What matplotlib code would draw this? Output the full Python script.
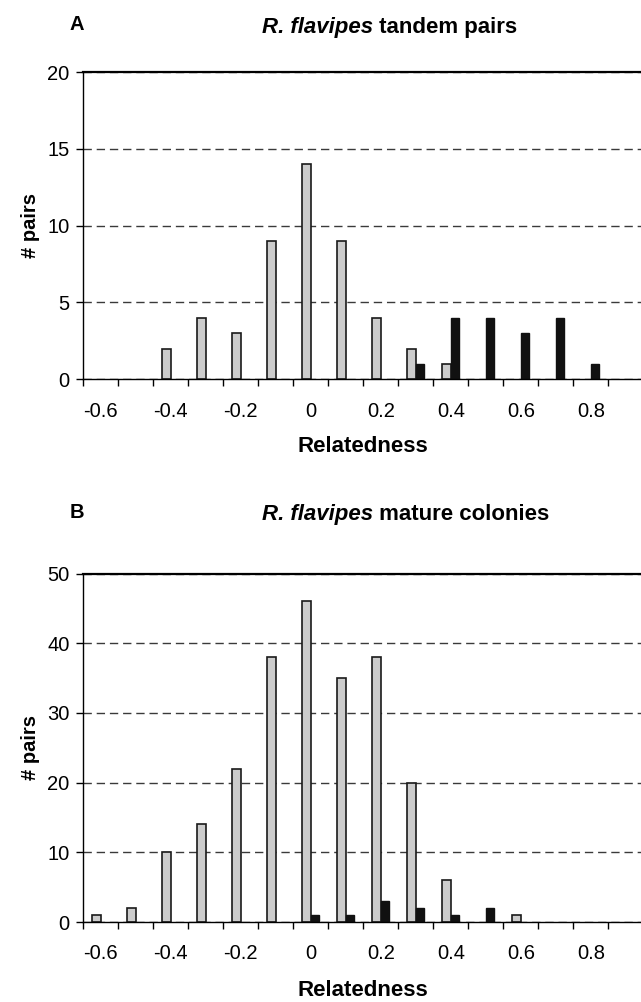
import matplotlib
matplotlib.use('Agg')
import matplotlib.pyplot as plt
import numpy as np

plt.rcParams['font.family'] = ['Liberation Sans', 'DejaVu Sans']

# relatedness classes (one per 0.1) and the counts
relatedness = [-0.6, -0.5, -0.4, -0.3, -0.2, -0.1, 0.0, 0.1,
               0.2, 0.3, 0.4, 0.5, 0.6, 0.7, 0.8, 0.9]
tick_values = [-0.6, -0.4, -0.2, 0.0, 0.2, 0.4, 0.6, 0.8]
tick_labels = ['-0.6', '-0.4', '-0.2', '0', '0.2', '0.4', '0.6', '0.8']

tandem_gray = [0, 0, 2, 4, 3, 9, 14, 9, 4, 2, 1, 0, 0, 0, 0, 0]
tandem_black = [0, 0, 0, 0, 0, 0, 0, 0, 0, 1, 4, 4, 3, 4, 1, 0]
mature_gray = [1, 2, 10, 14, 22, 38, 46, 35, 38, 20, 6, 0, 1, 0, 0, 0]
mature_black = [0, 0, 0, 0, 0, 0, 1, 1, 3, 2, 1, 2, 0, 0, 0, 0]

W, H = 641, 1002
fig = plt.figure(figsize=(W / 100, H / 100), dpi=100)


def px_axes(left, top, right, bottom):
    return fig.add_axes([left / W, 1 - bottom / H, (right - left) / W, (bottom - top) / H])


def draw_panel(ax, gray, black, ymax, ystep):
    bw = 0.024
    x = np.array(relatedness)
    # empty classes get no outline, as in the original
    ax.bar(x - bw / 2, gray, width=bw, color='#cccccc', edgecolor='#1a1a1a',
           linewidth=[1.2 if v > 0 else 0 for v in gray])
    ax.bar(x + bw / 2, black, width=bw, color='#111111', edgecolor='#111111',
           linewidth=[1.0 if v > 0 else 0 for v in black])

    ax.set_xlim(-0.65, 0.95)
    ax.set_ylim(0, ymax)
    edges = [r - 0.05 for r in relatedness] + [relatedness[-1] + 0.05]
    ax.set_xticks(edges)
    ax.set_xticklabels([])
    ax.set_xticks(tick_values, minor=True)
    ax.set_xticklabels(tick_labels, minor=True, fontsize=14.5)
    ax.tick_params(axis='x', which='major', length=5, width=1, direction='out')
    ax.tick_params(axis='x', which='minor', length=0, pad=16)
    ax.set_yticks(np.arange(0, ymax + 1, ystep))
    ax.tick_params(axis='y', length=5, width=1, direction='out', labelsize=14.5, pad=5)

    ax.set_axisbelow(True)
    ax.yaxis.grid(True, linestyle=(0, (6, 3.5)), color='#3a3a3a', linewidth=1.0)
    ax.spines['right'].set_visible(False)
    ax.spines['top'].set_linewidth(1.6)
    ax.spines['left'].set_linewidth(1.0)
    ax.spines['bottom'].set_linewidth(1.0)


def title(letter, rest, y):
    fy = 1 - y / H
    fig.text(77 / W, fy, letter, fontsize=14.5, fontweight='bold', ha='center', va='center')
    t1 = fig.text(262 / W, fy, 'R. flavipes', fontsize=16, fontweight='bold',
                  fontstyle='italic', ha='left', va='center_baseline')
    fig.canvas.draw()
    ext = t1.get_window_extent(renderer=fig.canvas.get_renderer())
    fig.text(ext.x1 / W, fy, rest, fontsize=16, fontweight='bold', ha='left',
             va='center_baseline')


axA = px_axes(83.3, 72, 643.3, 379.3)
draw_panel(axA, tandem_gray, tandem_black, 20, 5)
axB = px_axes(83.3, 573.6, 643.3, 922)
draw_panel(axB, mature_gray, mature_black, 50, 10)

title('A', ' tandem pairs', 25)
title('B', ' mature colonies', 512)

for ycen in (225.5, 748):
    fig.text(30 / W, 1 - ycen / H, '# pairs', fontsize=14.5, fontweight='bold',
             rotation=90, ha='center', va='center')
for ycen in (447, 990):
    fig.text(363 / W, 1 - ycen / H, 'Relatedness', fontsize=16, fontweight='bold',
             ha='center', va='center')

fig.savefig('out.png', dpi=100)
